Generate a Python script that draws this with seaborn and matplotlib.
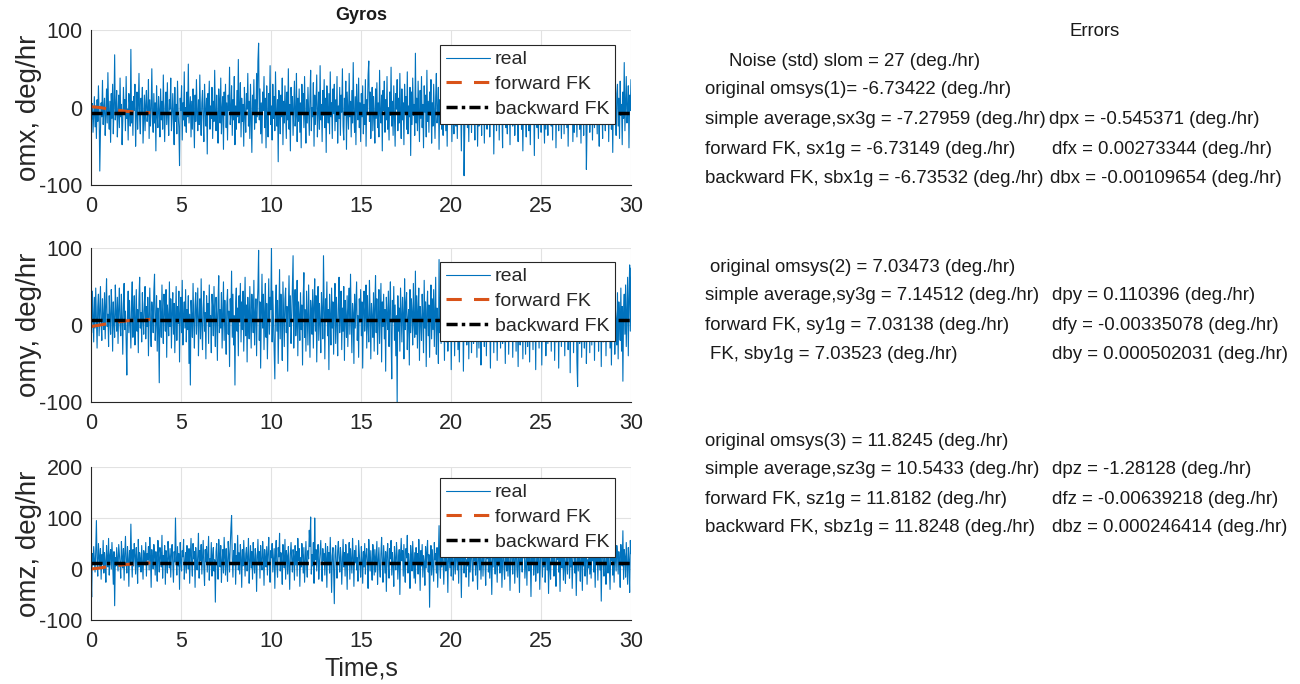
import numpy as np
import pandas as pd
import matplotlib
matplotlib.use("Agg")
import matplotlib.pyplot as plt
import seaborn as sns

# ---------------- data ----------------
omx_real = [
    20, -15, 5, -32, -8, 14, -25, 2, -40, 10, -18, 28, -5, -82, -30, 6, -12, 35, -22, -2,
    12, -36, -10, 24, -20, 45, -6, -28, 8, -45, 18, -14, 30, -34, 0, 68, -16, -4, 22, -38,
    -8, 16, -26, 38, -12, 4, -48, -18, 26, -6, 10, -30, 40, -14, -2, -42, 18, 6, -24, 75,
    -20, 8, -36, 14, -4, 30, -50, -10, 20, -28, 2, 44, -16, -34, 12, -6, 26, -46, -14, 16,
    -30, 4, 22, -18, -8, 36, -40, 10, -24, -2, 50, -12, -32, 18, -20, 6, -56, 28, -10, -26,
    14, -4, -38, 24, -16, 8, -28, 42, -8, -44, 2, 20, -22, 32, -12, -36, 10, -2, 38, -30,
    -14, 18, -6, -48, 26, -18, 4, -34, 34, -10, -26, -75, 12, -4, 28, -42, 6, -16, 46, -24,
    0, -32, 20, -12, 56, -20, -4, 14, -38, 8, -28, 24, -8, -52, 16, -18, 36, -6, -30, 10,
    -22, 42, -10, -36, 6, 22, -16, -44, 30, -2, -24, 12, -60, 18, -8, 34, -28, 2, -14, 26,
    -40, 8, -18, 48, -6, -30, 16, -12, -46, 24, 4, -20, 38, -34, -2, 14, -54, 20, -10, 30,
    -26, 6, -42, 16, -4, 52, -22, -8, 28, -36, 10, -16, 40, -48, 2, -28, 22, -12, 62, -20,
    -6, 32, -38, 12, -18, 4, -50, 26, -10, -32, 18, -2, 44, -24, 8, -40, 30, -14, -58, 16,
    -8, 36, -28, 10, -20, 44, -12, 60, 83, -16, 24, -34, 6, -46, 20, -4, 40, -26, 12, -52,
    28, -10, -38, 18, -6, 54, -22, 2, -42, 30, -14, 14, -30, 46, -8, -24, 10, -70, 22, -2,
    -34, 16, -12, 38, -48, 8, -20, 28, -4, -40, 20, -16, 50, -28, 4, -56, 26, -8, 14, -36,
    2, 34, -24, -10, 44, -44, 12, -18, 24, -32, 6, -52, 30, -6, 18, -26, 40, -14, -46, 10,
    -20, 26, -4, -36, 14, 48, -30, 0, -12, 32, -50, 16, -22, 8, 42, -38, -6, 20, -28, 54,
    -16, 4, -44, 22, -10, 36, -26, 12, -58, 28, -2, -20, 18, -34, 46, -12, 6, -40, 24, -8,
    30, -30, 10, -18, 40, -46, 2, -14, 26, -36, 16, -6, 50, -24, -42, 12, -10, 34, -54, 20,
    -4, -28, 44, -12, 8, -38, 22, -20, 58, -8, -32, 14, -48, 30, -2, -16, 38, -26, 6, -44,
    18, -12, 28, -34, 4, -22, 36, -50, 10, -6, 42, 60, -18, 20, -40, -2, 26, -30, 14, -10,
    -46, 24, -14, 32, -26, 6, -38, 48, -8, -20, 16, -56, 22, -4, 34, -32, 10, -16, 40, -28,
    0, -42, 20, -10, 52, -24, 8, -36, 28, -14, -50, 18, -2, 36, -30, 12, -20, 44, -8, -40,
    24, -16, 6, -48, 30, -6, 14, -28, 46, -34, 2, -12, 26, -62, 20, -22, 38, -10, 4, -36,
    70, -20, 12, -30, 34, -8, -44, 22, -14, 40, -26, 4, -52, 28, -6, 16, -38, 48, -18, 8,
    -32, 20, -10, 36, -46, 6, -24, 30, -4, -40, 14, 44, -20, -8, 26, -54, 10, -14, 32, -28,
    2, -36, 42, -12, 18, -30, 8, -50, 24, -2, -22, 38, -16, 12, -44, 28, -6, -34, 16, 50,
    -24, 10, -40, 26, -8, 34, -18, 4, -56, 20, -12, 30, -88, -30, 14, -6, 40, -26, 8, -44,
    22, -14, 36, -32, 6, -20, 46, -10, -42, 18, -4, 28, -50, 12, -24, 38, -16, 2, -36, 32,
    -8, 24, -46, 14, -18, 44, -28, 8, -12, 30, -38, 4, 54, -22, -6, 20, -60, 16, -14, 36,
    -30, 10, -4, 40, -42, 18, -20, 26, -8, -52, 32, -16, 6, 48, -26, 2, -34, 22, -12, 14,
    -48, 28, -10, 36, -24, 4, 50, -36, 12, -18, 24, -6, -44, 30, -14, 8, 42, -28, -2, -56,
    16, -20, 34, -8, -38, 22, -14, 44, -30, 6, -48, 18, -4, 28, -22, 10, -62, 26, -12, 38,
    -26, 2, -40, 20, -10, 50, -32, 12, -18, 32, -6, -46, 16, -28, 40, -2, -36, 24, -14, 8,
    46, -24, 14, -42, 28, -8, -20, 36, -52, 10, -4, 22, -30, 54, -16, 6, -40, 18, -10, 30,
    -34, 12, -2, 42, -26, 20, -50, 8, -14, 34, -22, -6, 26, -44, 16, -32, 48, -12, 4, -38,
    22, -8, 38, -28, 10, -46, 30, -16, 2, -36, 44, -20, 14, -80, -24, 18, -6, 40, -32, 6,
    -14, 32, -42, 20, -4, -26, 52, -18, 8, -34, 24, -10, -50, 16, 36, -22, 2, -40, 28, -12,
    10, -30, 46, -6, -20, 26, -44, 14, -2, 38, -28, 6, -58, 22, -16, 42, -8, -36, 18, 30,
    -24, 12, -40, 34, -10, 4, -48, 20, -14, 58, -30, 8, 40, -20, -6, 28, -52, 16, -4, 36,
]
omy_real = [
    30, -10, 44, 12, -22, 36, -4, 48, 6, -30, 24, 40, -14, 18, 50, 2, -20, 34, 10, -6,
    42, -18, 26, 60, -2, 14, -28, 38, 8, -12, 46, 20, -34, 30, 4, -16, 52, 16, -8, 36,
    -24, 22, 48, 0, -14, 40, 10, -38, 28, 54, -6, 18, -20, -65, 12, 44, -10, 32, 2, -30,
    26, 56, -16, 14, 38, -26, 6, 46, -8, 20, -36, 34, 62, -4, 16, -22, 42, 8, -12, 28,
    50, -18, 24, -2, 36, -40, 12, 48, 0, -28, 30, 18, -10, 44, 66, -20, 4, 38, -34, 22,
    -6, -75, 32, 14, -16, 52, 6, -24, 40, 20, -8, 46, -42, 26, 10, -14, 56, -2, 34, -30,
    18, 42, -12, 28, -36, 8, 50, -20, 24, 2, 44, -48, 16, 36, -10, 58, -26, 12, 30, -4,
    46, -22, 20, -6, 38, -50, 14, -78, 32, 10, -16, 54, 4, -30, 26, 42, -12, 18, 48, -40,
    8, 34, -18, 60, 0, -32, 22, 44, -8, 16, -44, 38, 6, 28, -24, 52, -2, 12, -36, 40,
    24, -14, 50, 4, -28, 36, 14, -46, 30, 64, -10, 20, -4, 42, -30, 10, 56, -20, 32, 2,
    -38, 26, 46, -12, 18, -54, 34, 8, 70, -16, 40, -26, 12, -78, 28, 48, -8, 22, -40, 38,
    4, 54, -22, 30, -6, 44, -34, 16, 62, -14, 26, -48, 36, 6, -18, 50, 10, -30, 40, 20,
    -10, 58, -26, 14, 34, -40, 22, 48, 97, -20, 30, -56, 12, 66, -4, 40, -32, 18, 54, -16,
    28, -44, 8, 60, -12, 36, 20, 100, -22, 44, 4, -36, -70, 26, 52, -8, 32, -50, 16, 72,
    -18, 40, 6, -46, 56, 14, -28, 34, 48, -10, 24, -60, 18, 64, -2, 38, -24, 10, 50, 90,
    -30, 22, 46, -14, 4, 58, -40, 30, 12, -20, 42, -6, 26, -52, 36, 68, -16, 20, -34, 44,
    10, -26, 52, 2, -42, 32, 18, -12, 46, -30, 24, 60, -8, 38, -48, 14, 50, -20, 28, 6,
    -36, 42, 16, -18, 90, 24, -44, 34, 8, 56, -14, 20, -58, 40, 12, -26, 48, -4, 30, -38,
    18, 54, -24, 36, 2, -40, 26, 62, -10, 14, 44, -32, 22, -8, 50, -46, 32, 10, -16, 38,
    -28, 20, 48, -12, 66, 6, -36, 28, 16, -50, 40, -4, 24, 56, -20, 12, -42, 34, 4, 46,
    -14, 30, -56, 22, 44, -8, 14, 52, -30, 38, 0, -22, 58, 18, -44, 28, 10, -16, 42, -34,
    24, 64, -10, 34, -38, 8, 46, -24, 16, 54, -48, 30, -2, 40, -18, 20, -60, 36, 12, -6,
    44, -28, 18, 56, -14, -70, 32, 4, 50, -20, 26, -40, 12, -100, 38, -8, 22, -34, 48, 10,
    -22, 36, 14, -44, 60, -6, 28, 42, -32, 8, 20, -52, 46, -10, 34, 16, -26, 54, 2, -16,
    70, -12, 38, -30, 20, 48, -46, 24, 6, -20, 40, 12, -36, 58, -4, 30, -54, 18, 44, -14,
    26, -42, 10, 52, -18, 34, -6, 46, -28, 16, 62, -38, 22, 4, -50, 85, -10, 36, -24, 14,
    48, -8, 28, -46, 40, 6, -22, 56, -34, 18, 32, -14, 50, -58, 12, 42, -2, 26, -40, 20,
    -16, 54, 10, -32, 36, -48, 22, 4, 46, -20, 30, -60, 14, 40, -10, 58, -26, 8, 34, -44,
    24, -4, 50, -36, 16, 42, -24, 6, 60, -14, 28, -42, 38, 2, -30, 20, 48, -52, 12, 32,
    -8, 44, -28, 18, 56, -40, 26, 0, -18, 38, 10, -56, 30, 52, -12, 22, -36, 46, 4, -22,
    36, -46, 14, 40, -10, 28, -30, 54, 8, -24, 44, -4, 18, -50, 34, 12, -16, 48, -38, 20,
    2, 58, -20, 30, -42, 16, 46, -8, 24, -34, 40, 6, -54, 32, 14, -26, 50, -12, 26, -44,
    42, -16, 20, -38, 52, 4, -28, 36, 12, -48, 28, 56, -6, 18, -32, 44, -2, 24, -58, 34,
    -20, 46, 10, -30, 38, -12, 22, -52, 30, 60, -18, 14, 42, -40, 8, 26, -24, 50, -6, 16,
    40, -34, 20, 54, -14, 32, -46, 6, 44, -22, 12, 36, -56, 28, -8, 48, -28, 18, 58, -10,
    24, -40, 36, 2, -20, 50, -32, 14, 42, -62, 26, 8, -16, 46, -36, 22, 56, -12, 30, -48,
    -80, 18, 44, -24, 10, 34, -42, 28, -4, 52, -30, 16, 40, -50, 6, 38, -18, 24, -36, 48,
    12, -26, 54, -8, 30, -46, 20, 42, -16, 8, 60, -34, 26, -4, 46, -54, 16, 34, -22, 70,
    -12, 38, -40, 22, 50, -18, 4, 44, -30, 28, -52, 14, 36, -10, 56, -38, 20, 6, -26, 42,
    -44, 30, 10, -20, 48, -34, 24, -73, 16, 40, -12, 52, -28, 20, 62, -40, 34, 78, -8, 74,
]
omz_real = [
    -10, -55, 30, 8, 44, 18, -6, 36, 95, 12, -14, 50, 24, 2, 40, -20, 28, 10, 56, -8,
    32, 14, -26, 46, 20, 4, 60, -12, 26, 38, 0, 52, 16, -30, 34, -72, 22, 6, 42, 18,
    -4, 48, 28, 10, -18, 54, 24, 2, 40, -22, 30, 64, 12, -8, 44, 20, -34, 36, 14, 88,
    22, -16, 38, 6, 50, 28, -10, 42, 16, -28, 58, 4, 32, 20, -6, 46, 12, -20, 36, 26,
    8, 52, -14, 30, 18, 44, -2, 62, 24, -36, 38, 14, 0, 48, 28, -12, 34, 10, -24, 56,
    20, -6, 42, 30, 4, 66, -18, 26, 12, 46, -30, 36, 18, -8, 54, 22, 2, 40, -16, 28,
    48, 10, -26, 34, 14, 100, 22, -12, 44, 6, 30, -40, 52, 16, -4, 36, 24, 58, -20, 12,
    32, -8, 46, 18, 0, 40, -28, 26, 60, 8, -14, 50, 20, 34, -36, 42, 12, -2, 28, 70,
    -18, 36, 16, 48, -10, 24, 56, 2, -32, 38, 14, 44, -6, 30, 64, -22, 20, 8, 52, -14,
    26, 42, -4, 18, -65, 34, 50, 10, -20, 58, 28, 4, 46, -26, 16, 38, -8, 62, 22, -12,
    40, 12, -24, 54, 30, -6, 44, 80, 105, 20, -16, 36, 8, 50, -30, 26, 14, 66, -2, 32,
    -10, 48, 22, -36, 38, 6, 56, 18, -14, 30, 42, -4, 24, 60, -28, 14, 46, 2, 34, -20,
    52, 16, -8, 40, 26, -44, 20, 58, 8, 34, -18, 46, 12, -2, 54, 28, -32, 38, 18, 4,
    44, -12, 30, 62, 10, -26, 36, 22, 50, -6, 16, 40, -38, 28, 56, 6, -16, 42, 24, 70,
    -4, 32, 14, -30, 48, 20, 2, 58, -20, 36, 26, -10, 44, 12, -40, 30, 52, 18, -6, 38,
    24, -22, 46, 8, 34, -14, 60, 16, 40, -34, 22, 4, 50, 28, -8, 42, -26, 14, 54, 10,
    -16, 36, 20, 76, 44, 102, -10, 28, 6, 52, -28, 100, 18, 38, -4, 26, 48, -20, 12, 34,
    56, 2, -24, 40, 16, 30, -12, 50, 22, -36, 44, 8, 32, -8, 62, 14, -46, 26, 42, 0,
    -68, 28, 46, 10, -18, 36, 54, 20, -6, 42, 24, -30, 14, 58, 4, 32, -14, 48, 18, -40,
    30, 8, 52, -20, 40, 16, -8, 60, 26, -34, 36, 12, 46, -2, 22, -24, 56, 30, 6, -16,
    44, 18, -28, 34, 4, 50, -10, 26, 40, 14, -38, 58, 22, -4, 36, 10, -22, 48, 28, -12,
    38, -6, 24, 54, -30, 16, 42, 2, -16, 30, 62, 12, -26, 46, 20, -8, 34, -44, 26, 50,
    6, -18, 40, 20, 56, -12, 32, 8, -34, 44, 18, -2, 52, 26, -20, 14, 38, -50, 28, 60,
    16, 36, -14, 48, 4, -26, 40, 22, 66, -8, 30, 12, -38, 46, 24, -4, 54, 18, -18, 32,
    -28, 42, 10, 30, -10, 58, 20, -42, 36, 6, 48, -16, 26, 14, -32, 44, 2, 34, 56, -6,
    28, -75, 24, 46, -12, 38, 8, -24, 52, 18, 30, -8, 42, -36, 20, 85, 10, -18, 36, 4,
    48, 14, -30, 26, 60, -4, 34, 16, -46, 40, 22, 2, 54, -14, 28, 44, -22, 12, 36, -10,
    20, 50, -2, 32, -28, 46, 10, 24, -56, 38, 14, 58, -8, 28, 42, -16, 18, 6, 48, -34,
    34, -6, 22, 52, 2, -24, 40, 16, 30, -12, 56, 8, -40, 44, 26, -2, 36, -20, 14, 50,
    -14, 30, 46, 10, -32, 38, 20, 64, -6, 26, -18, 42, 12, -50, 34, 4, 48, 22, -10, 40,
    18, -26, 36, 6, 54, -8, 28, 44, -36, 16, 50, 2, -20, 32, 24, -4, 60, -14, 38, 12,
    -42, 26, 48, 14, -10, 42, 30, -28, 20, 56, 4, -16, 36, 18, -46, 46, 10, 28, -6, 52,
    22, 40, -18, 8, 34, -32, 50, 16, -4, 44, 26, -54, 30, 12, 58, -12, 20, 38, -24, 6,
    46, -8, 24, 36, -40, 14, 52, 28, -16, 32, 4, 62, -26, 18, 42, -2, 30, -48, 22, 10,
    -20, 44, 12, 30, 56, -14, 26, 6, -34, 40, 18, 50, -6, 28, -44, 36, 14, 2, 48, -22,
    32, 8, -28, 46, 20, -10, 38, 58, -18, 24, 4, 42, -38, 16, 34, 54, -8, 26, -52, 12,
    40, -4, 30, 14, -24, 48, 22, -42, 36, 6, 60, -14, 26, 44, -30, 18, 2, 50, -10, 34,
    -18, 38, 16, 52, -6, 28, -36, 42, 10, 30, -22, 46, 20, -2, 34, -63, 24, 56, 8, -14,
    44, 12, -30, 36, 22, -8, 50, 4, -40, 32, 16, 58, -12, 26, -26, 40, 18, -4, 46, 28,
    -10, 34, 14, -36, 48, 20, 6, 75, -20, 38, 24, -16, 52, 10, -30, 42, 18, -46, 56, 30,
]

fk_time = [0, 0.5, 1.0, 1.5, 2.0, 2.5, 3.0, 3.3]
omx_forward = [1.0, 0.0, -2.0, -3.5, -5.0, -6.0, -6.6, -6.73149]
omy_forward = [-2.0, 0.0, 2.0, 4.0, 5.5, 6.5, 7.0, 7.03138]
omz_forward = [0.0, 2.0, 5.0, 7.0, 9.0, 10.5, 11.5, 11.8182]

bk_time = [0.0, 30.0]
omx_backward = [-6.73532, -6.73532]
omy_backward = [7.03523, 7.03523]
omz_backward = [11.8248, 11.8248]

ylabels = ["omx, deg/hr", "omy, deg/hr", "omz, deg/hr"]
xticks = [0, 5, 10, 15, 20, 25, 30]
yticks_list = [[-100, 0, 100], [-100, 0, 100], [-100, 0, 100, 200]]
ylims = [(-100, 100), (-100, 100), (-100, 200)]
legend_labels = ["real", "forward FK", "backward FK"]

text_lines = [
    # (x_px, y_px, text, ha)
    (1095, 32, "Errors", "center"),
    (729, 62, "Noise (std) slom = 27 (deg./hr)", "left"),
    (705, 90, "original omsys(1)= -6.73422 (deg./hr)", "left"),
    (705, 120, "simple average,sx3g = -7.27959 (deg./hr)", "left"),
    (1049, 120, "dpx = -0.545371 (deg./hr)", "left"),
    (705, 149, "forward FK, sx1g = -6.73149 (deg./hr)", "left"),
    (1052, 149, "dfx = 0.00273344 (deg./hr)", "left"),
    (705, 178, "backward FK, sbx1g = -6.73532 (deg./hr)", "left"),
    (1050, 178, "dbx = -0.00109654 (deg./hr)", "left"),
    (710, 268, "original omsys(2) = 7.03473 (deg./hr)", "left"),
    (705, 296, "simple average,sy3g = 7.14512 (deg./hr)", "left"),
    (1052, 296, "dpy = 0.110396 (deg./hr)", "left"),
    (705, 325, "forward FK, sy1g = 7.03138 (deg./hr)", "left"),
    (1052, 325, "dfy = -0.00335078 (deg./hr)", "left"),
    (710, 354, "FK, sby1g = 7.03523 (deg./hr)", "left"),
    (1052, 354, "dby = 0.000502031 (deg./hr)", "left"),
    (705, 441, "original omsys(3) = 11.8245 (deg./hr)", "left"),
    (705, 470, "simple average,sz3g = 10.5433 (deg./hr)", "left"),
    (1052, 470, "dpz = -1.28128 (deg./hr)", "left"),
    (705, 499, "forward FK, sz1g = 11.8182 (deg./hr)", "left"),
    (1052, 499, "dfz = -0.00639218 (deg./hr)", "left"),
    (705, 528, "backward FK, sbz1g = 11.8248 (deg./hr)", "left"),
    (1052, 528, "dbz = 0.000246414 (deg./hr)", "left"),
]

# ---------------- style ----------------
sns.set_theme(style="white")
plt.rcParams["font.family"] = ["Liberation Sans", "DejaVu Sans"]
plt.rcParams["axes.unicode_minus"] = False
plt.rcParams["axes.edgecolor"] = "#262626"
plt.rcParams["xtick.color"] = "#262626"
plt.rcParams["ytick.color"] = "#262626"

W, H = 1300, 684
fig = plt.figure(figsize=(W / 100, H / 100), dpi=100)

# axes rectangles in pixels: left, top, right, bottom
rects = [(91, 30, 631, 185), (91, 248, 631, 402), (91, 467, 631, 620)]
legend_tops = [45, 262, 478]

reals = [omx_real, omy_real, omz_real]
forwards = [omx_forward, omy_forward, omz_forward]
backwards = [omx_backward, omy_backward, omz_backward]

BLUE = "#0072BD"
ORANGE = "#D95319"

for i in range(3):
    l, t, r, b = rects[i]
    ax = fig.add_axes([l / W, 1 - b / H, (r - l) / W, (b - t) / H])
    n = len(reals[i])
    df = pd.DataFrame({"t": np.linspace(0, 30, n), "v": reals[i]})
    sns.lineplot(data=df, x="t", y="v", ax=ax, color=BLUE, linewidth=0.8,
                 estimator=None, sort=False, label=legend_labels[0])
    dff = pd.DataFrame({"t": fk_time, "v": forwards[i]})
    sns.lineplot(data=dff, x="t", y="v", ax=ax, color=ORANGE, linewidth=2.2,
                 estimator=None, sort=False, label=legend_labels[1])
    ax.lines[-1].set_dashes((5, 4))
    dfb = pd.DataFrame({"t": bk_time, "v": backwards[i]})
    sns.lineplot(data=dfb, x="t", y="v", ax=ax, color="black", linewidth=2.5,
                 estimator=None, sort=False, label=legend_labels[2])
    ax.lines[-1].set_dashes((3.2, 1.2, 1.0, 1.2))

    ax.set_xlim(0, 30)
    ax.set_ylim(*ylims[i])
    ax.set_xticks(xticks)
    ax.set_yticks(yticks_list[i])
    ax.tick_params(direction="in", length=4, width=0.8, labelsize=15.5)
    ax.tick_params(axis="x", pad=8)
    ax.tick_params(axis="y", pad=6)
    ax.grid(True, color="#E2E2E2", linewidth=0.8)
    ax.set_axisbelow(True)
    for s in ["top", "right"]:
        ax.spines[s].set_visible(False)
    for s in ["left", "bottom"]:
        ax.spines[s].set_linewidth(0.8)
    ax.set_ylabel(ylabels[i], fontsize=20, color="#262626")
    ax.yaxis.set_label_coords(-0.09, 0.5)
    ax.set_xlabel("")
    if i == 0:
        ax.set_title("Gyros", fontsize=13, fontweight="bold", color="#1a1a1a", pad=7)
    if i == 2:
        ax.set_xlabel("Time,s", fontsize=18, color="#262626", labelpad=3)

    leg = ax.legend(loc="upper right",
                    bbox_to_anchor=((615 - l) / (r - l), (b - legend_tops[i]) / (b - t)),
                    fontsize=14, frameon=True, fancybox=False, framealpha=1,
                    edgecolor="#262626", borderaxespad=0, borderpad=0.3,
                    handlelength=2.25, handletextpad=0.25, labelspacing=0.36)
    leg.get_frame().set_linewidth(0.8)

for x, y, s, ha in text_lines:
    fig.text(x / W, 1 - y / H, s, ha=ha, va="center", fontsize=13.4, color="#1a1a1a")

fig.savefig("out.png", dpi=100)
